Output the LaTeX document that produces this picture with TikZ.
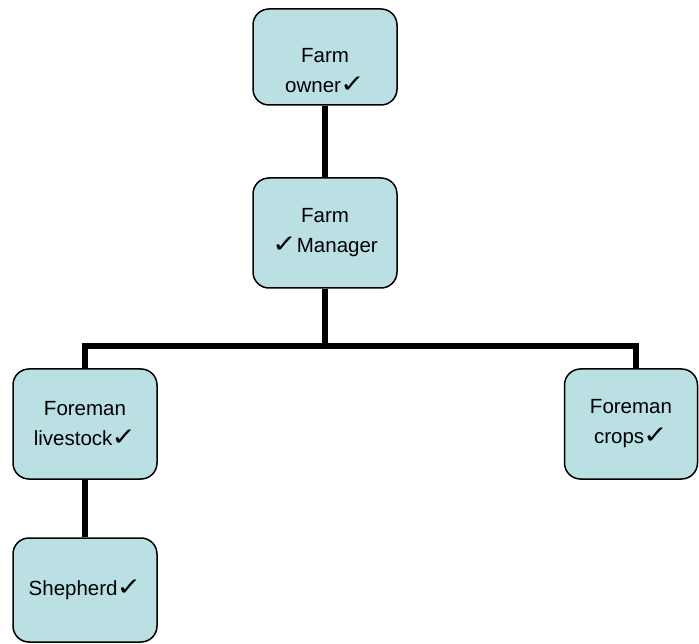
\documentclass[tikz,border=0pt]{standalone}
\usepackage{fontspec}
\usepackage{graphicx}
\setmainfont{Liberation Sans}
\newfontfamily\chkfont{DejaVu Sans}
\newcommand{\tick}{\scalebox{1.55}[1.3]{\chkfont\fontsize{19}{19}\selectfont ✓}}
\newcommand{\chk}{\kern-1pt\tick}
\definecolor{boxfill}{RGB}{187,224,227}

\tikzset{
  post/.style={draw=black,line width=1.5pt,fill=boxfill,rounded corners=16pt,
    minimum width=144pt,minimum height=110pt,align=center,
    font=\fontsize{20.5}{30}\selectfont},
  link/.style={line width=6pt,black}
}

\begin{document}
\begin{tikzpicture}[x=1pt,y=-1pt]
\useasboundingbox (0,0) rectangle (699,644);

\node[post,minimum height=96pt] (owner) at (325,57) {};
\node[align=center,font=\fontsize{20.5}{30}\selectfont] (ownertext) at (325,71) {Farm\\owner\chk};
\node[post] (manager) at (325,233) {Farm\\\tick Manager};
\node[post] (livestock) at (85,424) {Foreman\\livestock\chk};
\node[post,minimum width=133pt] (crops) at (631,424) {Foreman\\crops\chk};
\node[post,minimum height=104pt] (shepherd) at (85,590) {Shepherd\chk};

\coordinate (bar) at (325,346);
\draw[link] (owner.south) -- (manager.north);
\draw[link] (manager.south) -- (bar);
\draw[link] (livestock.north) |- (bar) -| ([xshift=5pt]crops.north);
\draw[link] (livestock.south) -- (shepherd.north);
\end{tikzpicture}
\end{document}
